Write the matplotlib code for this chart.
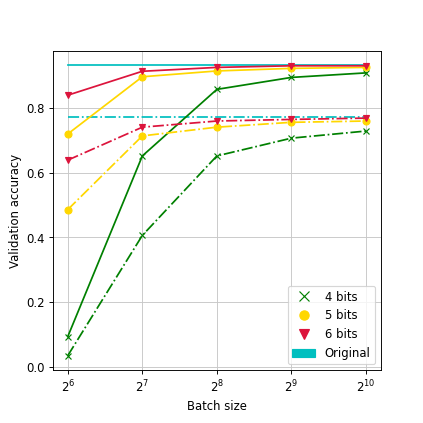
import matplotlib
matplotlib.use("Agg")
import matplotlib.pyplot as plt
import matplotlib.patches as mpatches
from matplotlib.lines import Line2D

# batch sizes (powers of two)
batch_sizes = [64, 128, 256, 512, 1024]

# solid lines: top-1 style accuracy, dash-dot lines: second metric
acc_4bit = [0.093, 0.652, 0.858, 0.895, 0.909]
acc_5bit = [0.720, 0.897, 0.915, 0.923, 0.926]
acc_6bit = [0.840, 0.914, 0.926, 0.931, 0.931]
acc_4bit_dd = [0.034, 0.406, 0.652, 0.707, 0.729]
acc_5bit_dd = [0.486, 0.714, 0.741, 0.756, 0.760]
acc_6bit_dd = [0.639, 0.741, 0.760, 0.765, 0.769]
original = 0.933
original_dd = 0.772

fig, ax = plt.subplots(figsize=(5.08, 5.08), dpi=83.3)
fig.subplots_adjust(left=0.125, right=0.9, top=0.88, bottom=0.125)

ax.plot(batch_sizes, [original] * len(batch_sizes), color='c', linestyle='-')
ax.plot(batch_sizes, [original_dd] * len(batch_sizes), color='c', linestyle='-.')

ax.plot(batch_sizes, acc_4bit, color='green', marker='x', linestyle='-')
ax.plot(batch_sizes, acc_5bit, color='gold', marker='o', linestyle='-')
ax.plot(batch_sizes, acc_6bit, color='crimson', marker='v', linestyle='-')
ax.plot(batch_sizes, acc_4bit_dd, color='green', marker='x', linestyle='-.')
ax.plot(batch_sizes, acc_5bit_dd, color='gold', marker='o', linestyle='-.')
ax.plot(batch_sizes, acc_6bit_dd, color='crimson', marker='v', linestyle='-.')

ax.set_xscale('log', base=2)
ax.set_xticks(batch_sizes)
ax.set_yticks([0.0, 0.2, 0.4, 0.6, 0.8])
ax.grid(True, color='#c8c8c8')
ax.set_xlabel('Batch size')
ax.set_ylabel('Validation accuracy')

handles = [
    Line2D([], [], color='green', marker='x', linestyle='None', markersize=8),
    Line2D([], [], color='gold', marker='o', linestyle='None', markersize=8),
    Line2D([], [], color='crimson', marker='v', linestyle='None', markersize=8),
    mpatches.Patch(color='c'),
]
ax.legend(handles, ['4 bits', '5 bits', '6 bits', 'Original'], loc='lower right')

fig.savefig('out.png')
